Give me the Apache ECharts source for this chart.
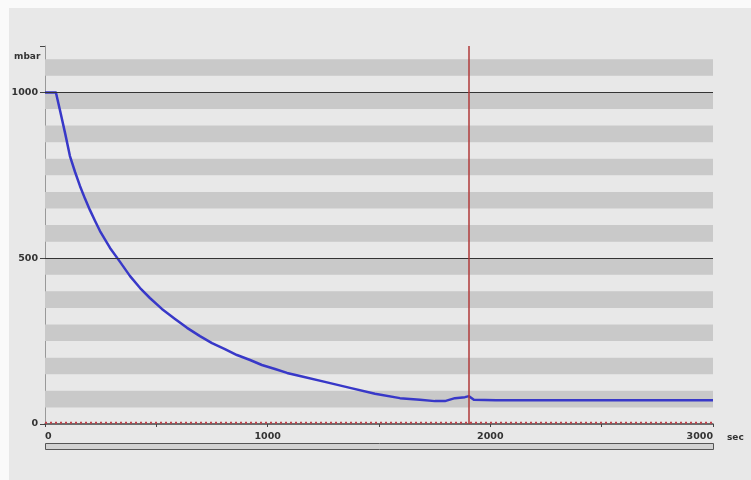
<!DOCTYPE html>
<html>
<head>
<meta charset="utf-8">
<script src="https://cdn.jsdelivr.net/npm/echarts@6/dist/echarts.min.js"></script>
<style>html,body{margin:0;padding:0;background:#fafafa;}#c{width:751px;height:480px;}</style>
</head>
<body>
<div id="c"></div>
<script>
// Pressure curve (sec, mbar)
const timeSec = [0, 49, 67, 90, 112, 135, 157, 180, 202, 225, 247, 292, 337, 382, 427, 471, 525, 584, 638, 696, 750, 808, 862, 921, 974, 1033, 1087, 1145, 1257, 1370, 1482, 1594, 1684, 1751, 1796, 1841, 1886, 1904, 1926, 2025, 2031, 2037, 2335, 2341, 2347, 3000];
const pressure = [1000, 1000, 947, 878, 808, 760, 718, 679, 645, 612, 582, 531, 489, 446, 410, 380, 347, 317, 290, 265, 244, 226, 208, 193, 178, 166, 154, 145, 127, 109, 91, 78, 73, 69, 69, 78, 81, 84, 73, 72, 76, 72, 72, 76, 72, 72];
// Gray band lower bounds (each band 50 mbar tall)
const bandStarts = [50, 150, 250, 350, 450, 550, 650, 750, 850, 950, 1050];
const bandHeight = 50;
const refLines = [500, 1000];
const cursorSec = 1903;
const xTickLabels = [0, 1000, 2000, 3000];
const yTickLabels = [0, 500, 1000];
const baselineMarks = [[0, 4], [3000, 4]];

const chart = echarts.init(document.getElementById('c'));
const font = 'DejaVu Sans';
chart.setOption({
  backgroundColor: '#fafafa',
  animation: false,
  grid: {left: 45, right: 38, top: 46, bottom: 56},
  graphic: [
    {type: 'rect', z: -10, shape: {x: 9, y: 8, width: 742, height: 472}, style: {fill: '#e8e8e8'}},
    {type: 'text', left: 14, top: 52, style: {text: 'mbar', font: 'bold 9px "DejaVu Sans"', fill: '#333'}},
    {type: 'text', left: 727, top: 433, style: {text: 'sec', font: 'bold 9px "DejaVu Sans"', fill: '#333'}},
    {type: 'rect', shape: {x: 45.5, y: 443.5, width: 668, height: 6}, style: {fill: '#d2d2d2', stroke: '#555', lineWidth: 1}}
  ],
  xAxis: {
    type: 'value', min: 0, max: 3000, interval: 500,
    axisLine: {show: true, onZero: false, lineStyle: {color: '#444', width: 1.5}},
    axisTick: {show: true, length: 3, lineStyle: {color: '#444'}},
    splitLine: {show: false},
    axisLabel: {
      color: '#333', fontFamily: font, fontSize: 9.5, fontWeight: 'bold', margin: 8,
      alignMinLabel: 'left', alignMaxLabel: 'right',
      formatter: v => xTickLabels.indexOf(v) >= 0 ? String(v) : ''
    }
  },
  yAxis: {
    type: 'value', min: 0, max: 1140, interval: 500,
    axisLine: {show: true, lineStyle: {color: '#999', width: 1}},
    axisTick: {show: true, length: 5, lineStyle: {color: '#444'}},
    splitLine: {show: false},
    axisLabel: {
      color: '#333', fontFamily: font, fontSize: 9.5, fontWeight: 'bold', margin: 7,
      formatter: v => yTickLabels.indexOf(v) >= 0 ? String(v) : ''
    }
  },
  series: [
    {
      type: 'line', data: [], silent: true,
      markArea: {
        silent: true,
        itemStyle: {color: '#c9c9c9'},
        data: bandStarts.map(b => [{yAxis: b}, {yAxis: b + bandHeight}])
      },
      markLine: {
        silent: true, symbol: 'none', label: {show: false},
        lineStyle: {color: '#333', width: 1, type: 'solid'},
        data: refLines.map(v => ({yAxis: v}))
      }
    },
    {
      type: 'line', silent: true, symbol: 'none',
      data: baselineMarks,
      lineStyle: {color: '#c0404a', width: 2, type: [2, 3]}
    },
    {
      type: 'line', symbol: 'none', silent: true,
      data: timeSec.map((t, i) => [t, pressure[i]]),
      lineStyle: {color: '#3838c8', width: 2.5, join: 'round'},
      markLine: {
        silent: true, symbol: 'none', label: {show: false},
        lineStyle: {color: '#b03a3a', width: 1.5, type: 'solid'},
        data: [{xAxis: cursorSec}]
      }
    }
  ]
});
</script>
</body>
</html>
